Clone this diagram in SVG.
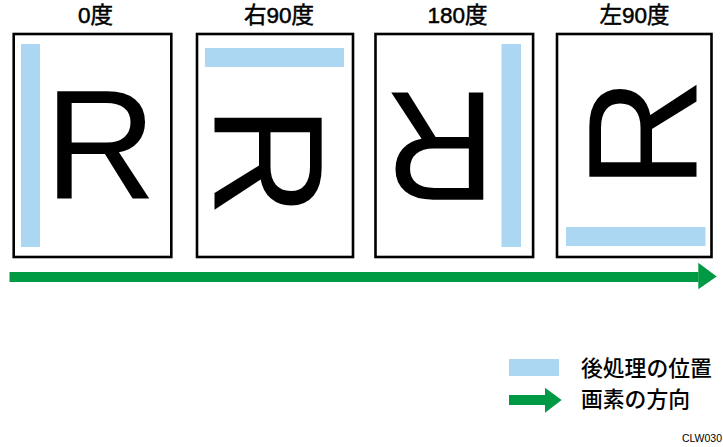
<svg xmlns="http://www.w3.org/2000/svg" width="723" height="447" viewBox="0 0 723 447">
<style>
.page{fill:#fff;stroke:#000;stroke-width:2.6}
.pos{fill:#abd7f3}
.lbl{font-family:"Liberation Sans","Noto Sans CJK JP",sans-serif;font-size:22.5px;fill:#000;stroke:#000;stroke-width:0.5;text-anchor:middle}
.leg{font-family:"Noto Sans CJK JP","Liberation Sans",sans-serif;font-size:21.8px;font-weight:500;fill:#000}
.r{font-family:"Liberation Sans",Arial,sans-serif;font-size:155px;fill:#000}
.grn{fill:#009a44}
</style>
<defs>
<text id="R" class="r" x="-58" y="55.5">R</text>
</defs>
<rect width="723" height="447" fill="#fff"/>
<g id="node-0">
<text class="lbl" x="95.5" y="23">0度</text>
<rect class="page" x="13.7" y="34" width="157.6" height="223"/>
<rect class="pos" x="21" y="44" width="19" height="203"/>
<use href="#R" transform="translate(102.5,143.5)"/>
</g>
<g id="node-90r">
<text class="lbl" x="279" y="23">右90度</text>
<rect class="page" x="197" y="34" width="156" height="223"/>
<rect class="pos" x="205" y="48" width="139" height="19"/>
<use href="#R" transform="translate(269,163) rotate(90)"/>
</g>
<g id="node-180">
<text class="lbl" x="457.5" y="23">180度</text>
<rect class="page" x="375.5" y="34" width="157.6" height="223"/>
<rect class="pos" x="501.5" y="44" width="19.5" height="203"/>
<use href="#R" transform="translate(438,147.5) rotate(180)"/>
</g>
<g id="node-90l">
<text class="lbl" x="634.5" y="23">左90度</text>
<rect class="page" x="557" y="34" width="154.5" height="223"/>
<rect class="pos" x="566" y="227" width="139.5" height="19"/>
<use href="#R" transform="translate(641,131.5) rotate(-90)"/>
</g>
<g id="connectors">
<rect class="grn" x="9.5" y="272" width="689" height="10"/>
<polygon class="grn" points="698.3,262.7 716.7,276.5 698.3,289.3"/>
</g>
<g id="legend">
<rect class="pos" x="509" y="359" width="50" height="17"/>
<text class="leg" x="581" y="376">後処理の位置</text>
<rect class="grn" x="509" y="395" width="37" height="10"/>
<polygon class="grn" points="545,387.7 561.7,400 545,412.7"/>
<text class="leg" x="581" y="407">画素の方向</text>
<text x="722" y="442" font-family="Liberation Sans,Arial,sans-serif" font-size="10.5" text-anchor="end" fill="#000">CLW030</text>
</g>
</svg>
